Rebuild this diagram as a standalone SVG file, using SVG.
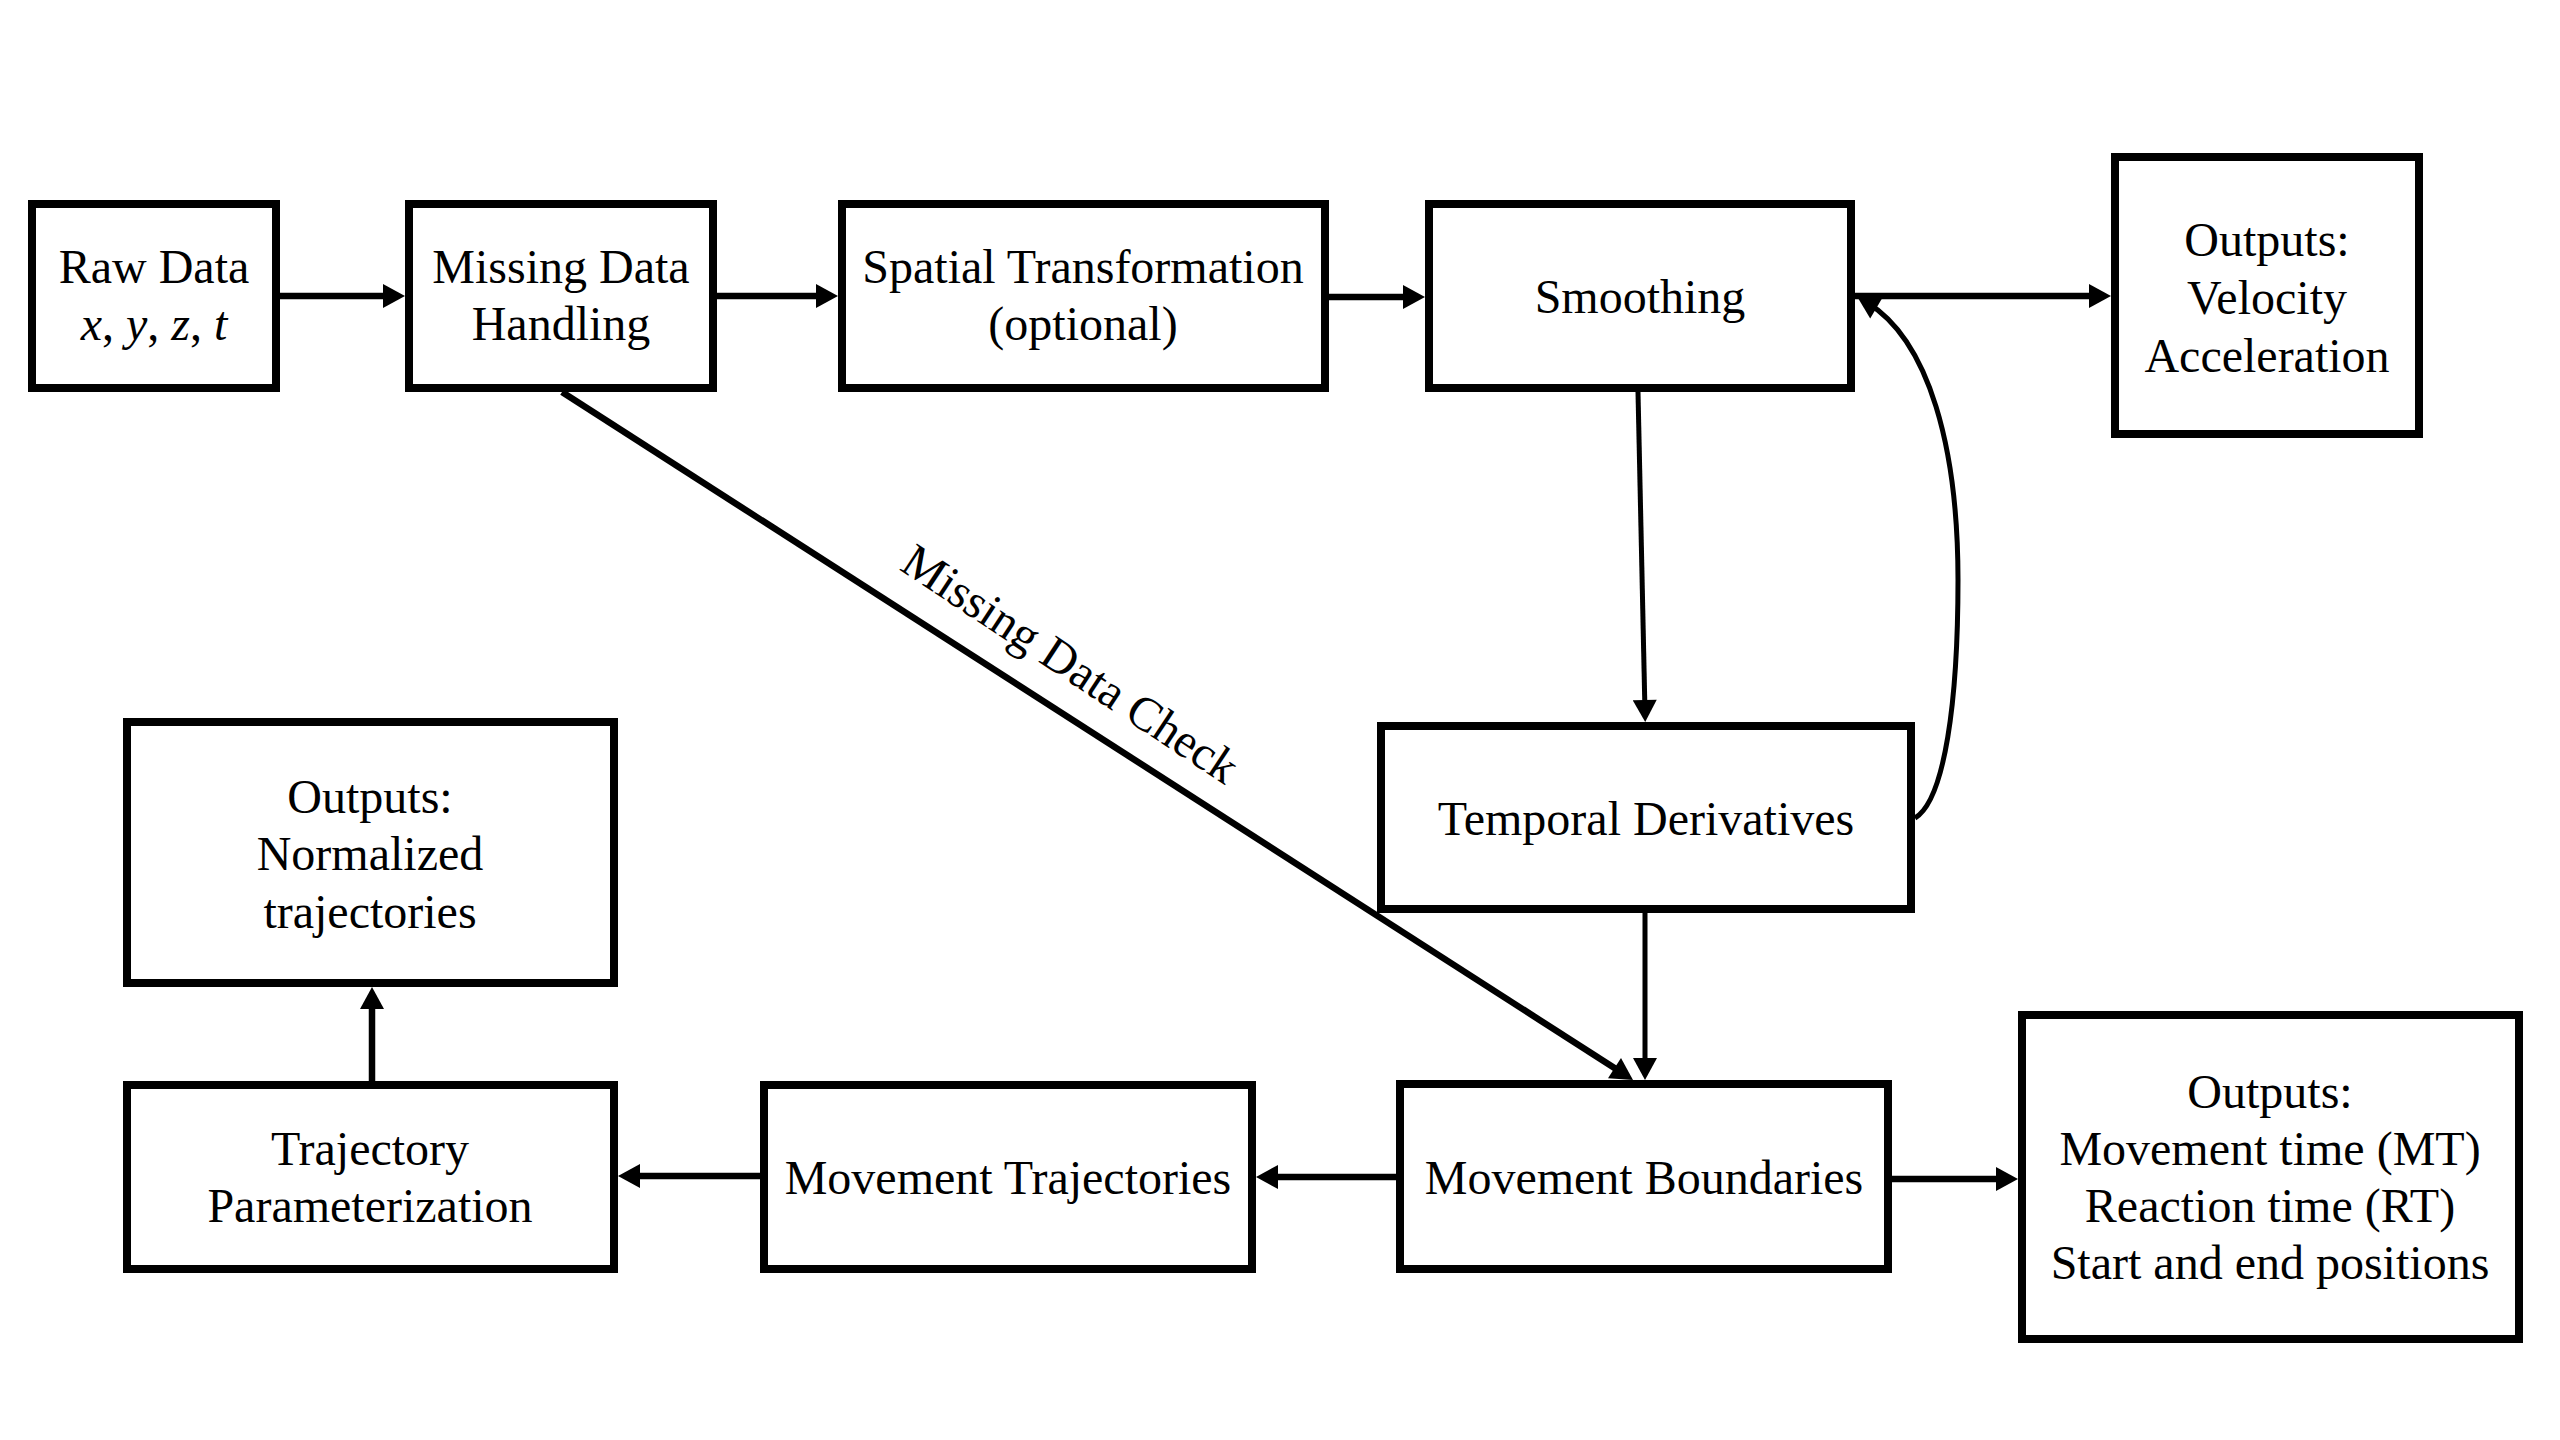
<svg xmlns="http://www.w3.org/2000/svg" width="2560" height="1440" viewBox="0 0 2560 1440">
<defs>
<style>
.box{fill:#fff;stroke:#000;stroke-width:8}
.t{font-family:"Liberation Serif","Times New Roman",serif;font-size:48px;fill:#000;text-anchor:middle}
.c{fill:none;stroke:#000;stroke-width:6.5;marker-end:url(#ah)}
.c2{fill:none;stroke:#000;stroke-width:5;marker-end:url(#ah)}
</style>
<marker id="ah" markerUnits="userSpaceOnUse" markerWidth="24" markerHeight="24" refX="12" refY="12" orient="auto" viewBox="0 0 22 24">
<path d="M0,0 L22,12 L0,24 z" fill="#000"/>
</marker>
</defs>
<rect width="2560" height="1440" fill="#fff"/>
<g id="connectors">
<line class="c" x1="280" y1="296" x2="395" y2="296"/>
<line class="c" x1="717" y1="296" x2="828" y2="296"/>
<line class="c" x1="1329" y1="297" x2="1415" y2="297"/>
<line class="c" x1="1855" y1="296" x2="2101" y2="296"/>
<line class="c2" x1="1638" y1="392" x2="1645" y2="712"/>
<path class="c2" d="M1915,818 C1945,800 1958,700 1958,580 C1958,450 1930,340 1866,302"/>
<line class="c2" x1="1645" y1="913" x2="1645" y2="1070"/>
<line class="c" x1="562" y1="392" x2="1624.6" y2="1074.6"/>
<line class="c" x1="1396" y1="1177" x2="1266" y2="1177"/>
<line class="c" x1="760" y1="1176" x2="628" y2="1176"/>
<line class="c" x1="372" y1="1081" x2="372" y2="997"/>
<line class="c" x1="1892" y1="1179" x2="2008" y2="1179"/>
<text class="t" transform="translate(1071,663) rotate(33.5)" y="17">Missing Data Check</text>
</g>
<g id="raw-data">
<rect class="box" x="32" y="204" width="244" height="184"/>
<text class="t" x="154" y="283">Raw Data</text>
<text class="t" x="154" y="340" font-style="italic">x<tspan font-style="normal">,</tspan> y<tspan font-style="normal">,</tspan> z<tspan font-style="normal">,</tspan> t</text>
</g>
<g id="missing-data">
<rect class="box" x="409" y="204" width="304" height="184"/>
<text class="t" x="561" y="283">Missing Data</text>
<text class="t" x="561" y="340">Handling</text>
</g>
<g id="spatial">
<rect class="box" x="842" y="204" width="483" height="184"/>
<text class="t" x="1083" y="283">Spatial Transformation</text>
<text class="t" x="1083" y="340">(optional)</text>
</g>
<g id="smoothing">
<rect class="box" x="1429" y="204" width="422" height="184"/>
<text class="t" x="1640" y="313">Smoothing</text>
</g>
<g id="outputs-velocity">
<rect class="box" x="2115" y="157" width="304" height="277"/>
<text class="t" x="2267" y="256">Outputs:</text>
<text class="t" x="2267" y="314">Velocity</text>
<text class="t" x="2267" y="372">Acceleration</text>
</g>
<g id="temporal">
<rect class="box" x="1381" y="726" width="530" height="183"/>
<text class="t" x="1646" y="835">Temporal Derivatives</text>
</g>
<g id="outputs-normalized">
<rect class="box" x="127" y="722" width="487" height="261"/>
<text class="t" x="370" y="813">Outputs:</text>
<text class="t" x="370" y="870">Normalized</text>
<text class="t" x="370" y="928">trajectories</text>
</g>
<g id="trajectory-param">
<rect class="box" x="127" y="1085" width="487" height="184"/>
<text class="t" x="370" y="1165">Trajectory</text>
<text class="t" x="370" y="1222">Parameterization</text>
</g>
<g id="movement-trajectories">
<rect class="box" x="764" y="1085" width="488" height="184"/>
<text class="t" x="1008" y="1194">Movement Trajectories</text>
</g>
<g id="movement-boundaries">
<rect class="box" x="1400" y="1084" width="488" height="185"/>
<text class="t" x="1644" y="1194">Movement Boundaries</text>
</g>
<g id="outputs-mt">
<rect class="box" x="2022" y="1015" width="497" height="324"/>
<text class="t" x="2270" y="1108">Outputs:</text>
<text class="t" x="2270" y="1165">Movement time (MT)</text>
<text class="t" x="2270" y="1222">Reaction time (RT)</text>
<text class="t" x="2270" y="1279">Start and end positions</text>
</g>
</svg>
